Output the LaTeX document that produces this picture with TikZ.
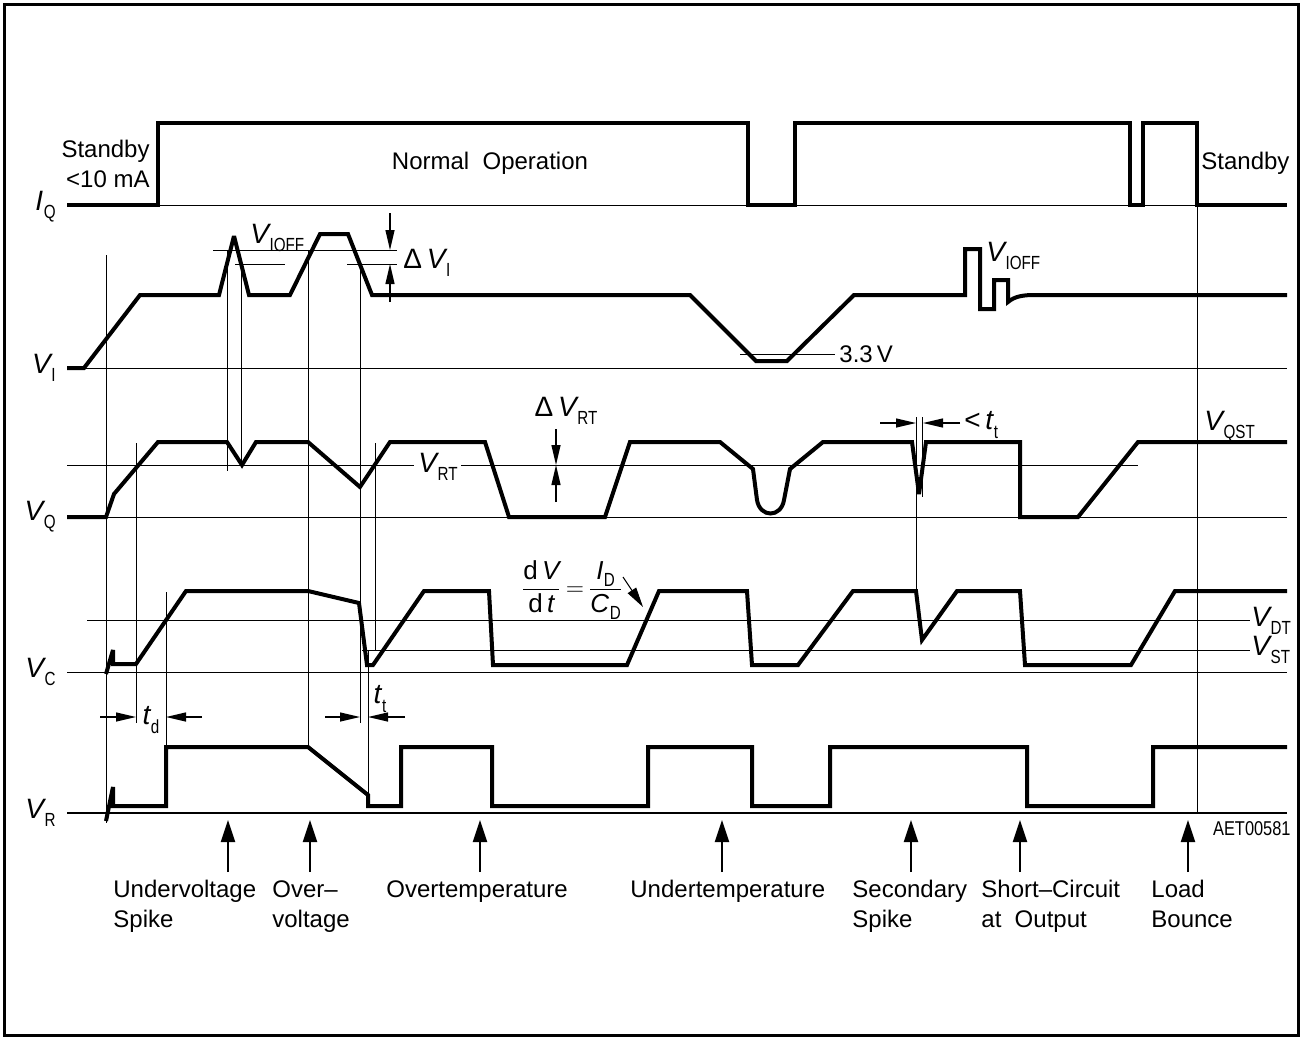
\documentclass[tikz,border=0pt]{standalone}
\usepackage{fontspec}
\setmainfont{Liberation Sans}
\usepackage{graphicx}
\usepackage{tikz}
\usetikzlibrary{arrows.meta,positioning}
\newcommand{\sgn}[2]{{\itshape #1}\kern0.02em\raisebox{-0.55ex}{\scalebox{0.8}[1]{\fontsize{9.5}{10}\selectfont #2}}}

\begin{document}
\begin{tikzpicture}[x=0.5pt,y=-0.5pt,>=Triangle]
\tikzstyle{wave}=[line width=2pt,miter limit=4]
\tikzstyle{ref}=[line width=0.5pt]
\tikzstyle{guide}=[line width=0.5pt]
\tikzstyle{axis}=[line width=1.2pt]
\tikzstyle{lbl}=[inner sep=0pt,font=\fontsize{12}{15}\selectfont]
\tikzstyle{sym}=[inner sep=0pt,font=\fontsize{14}{16}\selectfont]
\tikzstyle{event}=[line width=1pt,-{Triangle[length=11pt,width=7pt]}]
\tikzstyle{dim}=[line width=0.6pt,-{Triangle[length=10pt,width=4.5pt]}]
\useasboundingbox (0,0) rectangle (1302,1039);
\draw[line width=1.5pt] (4,4) rectangle (1298,1035);

\node[sym,anchor=east] (lIQ) at (56,207) {\sgn{I}{Q}};
\node[sym,anchor=east] (lVI) at (56,368) {\sgn{V}{I}};
\node[sym,anchor=east] (lVQ) at (56,517) {\sgn{V}{Q}};
\node[sym,anchor=east] (lVC) at (56,672) {\sgn{V}{C}};
\node[sym,anchor=east] (lVR) at (56,813) {\sgn{V}{R}};

\node[lbl,anchor=east,align=right] (standbyA) at (150,164) {Standby\\<10 mA};
\node[lbl] (normal) at (490,163) {Normal\ \ Operation};
\node[lbl,anchor=west] (standbyB) at (1201,163) {Standby};

\draw[ref] (158,205) -- (1197,205);
\draw[wave] (67,205) -- (158,205) -- (158,123) -- (748,123) -- (748,205) -- (795,205) -- (795,123) -- (1130,123) -- (1130,205) -- (1143,205) -- (1143,123) -- (1197,123) -- (1197,205) -- (1287,205);

\draw[ref] (84,368) -- (1287,368);
\draw[ref] (213,250) -- (397,250);
\draw[ref] (235,264) -- (285,264);
\draw[ref] (347,264) -- (397,264);
\draw[ref] (740,354) -- (835,354);
\draw[wave] (67,368) -- (84,368) -- (140,295) -- (219,295) -- (234,236) -- (249,295) -- (290,295) -- (320,234) -- (348,234) -- (372,295) -- (690,295) -- (756,361) -- (787,361) -- (854,295) -- (965,295) -- (965,249) -- (980,249) -- (980,309) -- (994,309) -- (994,280) -- (1008,280) -- (1008,302) .. controls (1015,296) and (1024,295) .. (1035,295) -- (1287,295);
\node[sym,anchor=west] (vioffA) at (250,238) {\sgn{V}{IOFF}};
\node[sym,anchor=west] (vioffB) at (986,256) {\sgn{V}{IOFF}};
\node[lbl,anchor=west] (threeV) at (839,354) {3.3\,V};
\coordinate (dviA) at (390,213);
\coordinate (dviB) at (390,250);
\coordinate (dviC) at (390,302);
\coordinate (dviD) at (390,264);
\draw[dim] (dviA) -- (dviB);
\draw[dim] (dviC) -- (dviD);
\node[sym,anchor=west] (dvi) at (403,263) {Δ\,\sgn{V}{I}};

\draw[ref] (106,517) -- (1287,517);
\draw[ref] (67,465) -- (414,465);
\draw[ref] (461,465) -- (1138,465);
\draw[wave] (67,517) -- (106,517) -- (114,494) -- (158,442) -- (227,442) -- (242,465) -- (256,442) -- (308,442) -- (360,487) -- (390,442) -- (485,442) -- (509,517) -- (605,517) -- (630,442) -- (720,442) -- (753,469) -- (757,500) .. controls (760,518) and (781,518) .. (784,500) -- (790,469) -- (823,442) -- (912,442) -- (919,494) -- (926,442) -- (1020,442) -- (1020,517) -- (1078,517) -- (1138,442) -- (1287,442);
\node[sym,anchor=west] (vrt) at (418,467) {\sgn{V}{RT}};
\node[sym] (dvrt) at (566,411) {Δ\,\sgn{V}{RT}};
\coordinate (dvrtA) at (556,429);
\coordinate (dvrtB) at (556,502);
\coordinate (dvrtM) at (556,465);
\draw[dim] (dvrtA) -- (dvrtM);
\draw[dim] (dvrtB) -- (dvrtM);
\coordinate (spkA) at (880,423);
\coordinate (spkB) at (916,423);
\coordinate (spkC) at (960,423);
\coordinate (spkD) at (923,423);
\draw[dim] (spkA) -- (spkB);
\draw[dim] (spkC) -- (spkD);
\node[sym,anchor=west] (ttsec) at (964,425) {<\,\sgn{t}{t}};
\node[sym,anchor=west] (vqst) at (1204,427) {\sgn{V}{QST}};

\draw[ref] (67,672) -- (1287,672);
\draw[ref] (87,620) -- (1250,620);
\draw[ref] (362,650) -- (1250,650);
\draw[wave] (106,674) -- (113,650) -- (113,664) -- (136,664) -- (186,591) -- (308,591) -- (359,603) -- (367,665) -- (373,665) -- (424,591) -- (489,591) -- (493,665) -- (627,665) -- (659,591) -- (747,591) -- (752,665) -- (798,665) -- (853,591) -- (916,591) -- (922,640) -- (957,591) -- (1020,591) -- (1025,665) -- (1131,665) -- (1175,591) -- (1287,591);
\node[sym,anchor=west] (vdt) at (1251,621) {\sgn{V}{DT}};
\node[sym,anchor=west] (vst) at (1251,650) {\sgn{V}{ST}};
\node[inner sep=0pt,font=\fontsize{13}{15}\selectfont] (slope) at (572,590) {$\thickmuskip=3mu\displaystyle\frac{\mbox{d\,\itshape V}}{\mbox{d\,\itshape t}}=\frac{\mbox{\sgn{I}{D}}}{\mbox{\sgn{C}{D}}}$};
\coordinate (slopeTail) at (623,577);
\coordinate (slopeTip) at (643,607);
\draw[line width=0.5pt,-{Triangle[length=10pt,width=5pt]}] (slopeTail) -- (slopeTip);
\coordinate (tdA) at (100,717);
\coordinate (tdB) at (136,717);
\coordinate (tdC) at (202,717);
\coordinate (tdD) at (166,717);
\draw[dim] (tdA) -- (tdB);
\draw[dim] (tdC) -- (tdD);
\node[sym] (td) at (151,720) {\sgn{t}{d}};
\coordinate (ttA) at (325,717);
\coordinate (ttB) at (360,717);
\coordinate (ttC) at (405,717);
\coordinate (ttD) at (368,717);
\draw[dim] (ttA) -- (ttB);
\draw[dim] (ttC) -- (ttD);
\node[sym] (tt) at (380,699) {\sgn{t}{t}};

\draw[axis] (67,813) -- (1287,813);
\draw[wave] (106,821) -- (113,787) -- (113,806) -- (166,806) -- (166,747) -- (308,747) -- (368,795) -- (368,806) -- (401,806) -- (401,747) -- (492,747) -- (492,806) -- (648,806) -- (648,747) -- (752,747) -- (752,806) -- (830,806) -- (830,747) -- (1027,747) -- (1027,806) -- (1153,806) -- (1153,747) -- (1287,747);

\draw[guide] (106,255) -- (106,823);
\draw[guide] (136,443) -- (136,723);
\draw[guide] (166,592) -- (166,747);
\draw[guide] (227,250) -- (227,471);
\draw[guide] (241,264) -- (241,465);
\draw[guide] (308,250) -- (308,747);
\draw[guide] (360,264) -- (360,723);
\draw[guide] (368,650) -- (368,806);
\draw[guide] (375,443) -- (375,650);
\draw[guide] (916,417) -- (916,591);
\draw[guide] (922,417) -- (922,497);
\draw[guide] (1197,205) -- (1197,813);

\foreach \x/\n in {228/uv,310/ov,480/ot,722/ut,911/ss,1020/sc,1188/lb}{
  \coordinate (\n Tail) at (\x,872);
  \coordinate (\n Tip) at (\x,820);
  \draw[event] (\n Tail) -- (\n Tip);
}
\node[lbl,anchor=north west,align=left] (uv) at (113,880) {Undervoltage\\Spike};
\node[lbl,anchor=north west,align=left] (ov) at (272,880) {Over–\\voltage};
\node[lbl,anchor=north west,align=left] (ot) at (386,880) {Overtemperature};
\node[lbl,anchor=north west,align=left] (ut) at (630,880) {Undertemperature};
\node[lbl,anchor=north west,align=left] (ss) at (852,880) {Secondary\\Spike};
\node[lbl,anchor=north west,align=left] (sc) at (981,880) {Short–Circuit\\at\ \ Output};
\node[lbl,anchor=north west,align=left] (lb) at (1151,880) {Load\\Bounce};
\node[inner sep=0pt,anchor=east,font=\fontsize{10}{12}\selectfont] (code) at (1291,829) {\scalebox{0.82}[1]{AET00581}};
\end{tikzpicture}
\end{document}
